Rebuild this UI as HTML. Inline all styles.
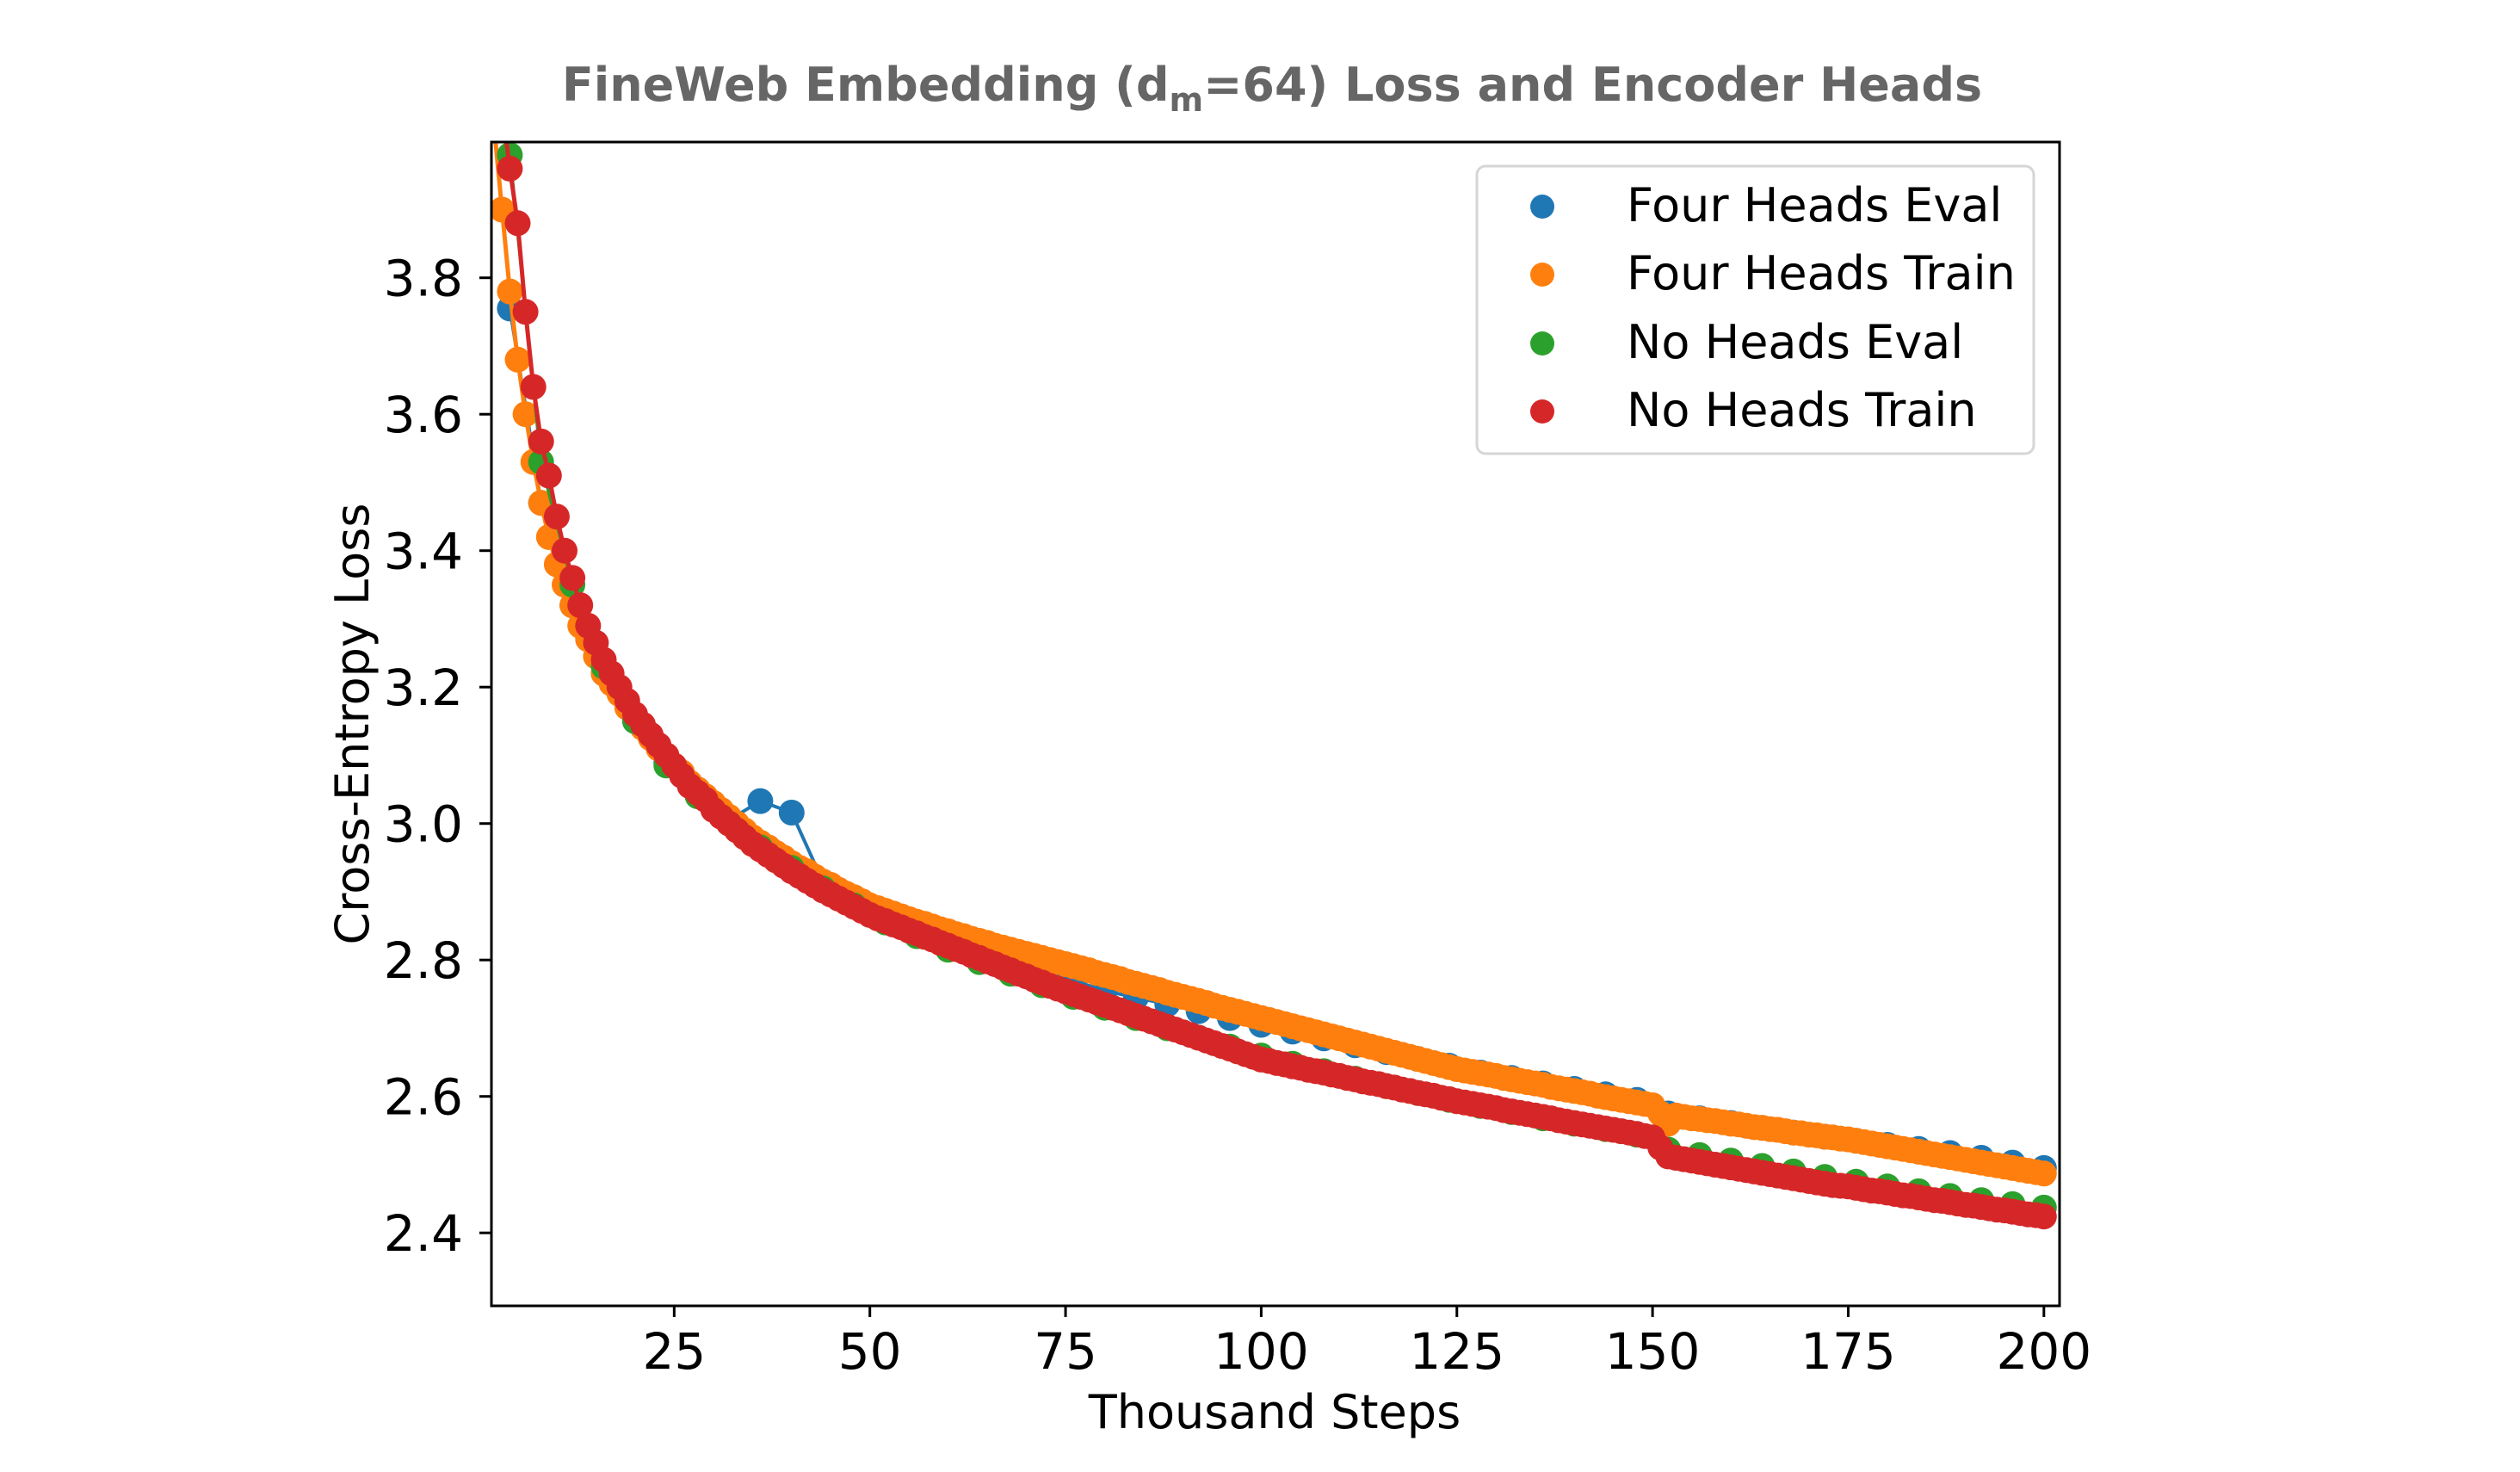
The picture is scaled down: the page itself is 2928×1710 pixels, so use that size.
<!DOCTYPE html>
<html><head><meta charset="utf-8"><style>
html,body{margin:0;padding:0;background:#fff;}
svg{display:block;font-family:"DejaVu Sans","Liberation Sans",sans-serif;}
</style></head><body>
<svg id="chart" width="2928" height="1710" viewBox="0 0 2928 1710" xmlns="http://www.w3.org/2000/svg">
<defs><clipPath id="plotclip"><rect x="571" y="165" width="1821" height="1352"/></clipPath></defs>
<rect width="2928" height="1710" fill="#fff"/>
<text x="1478" y="117" text-anchor="middle" font-size="54" font-weight="bold" fill="#666666">FineWeb Embedding (d<tspan font-size="38" dy="12">m</tspan><tspan dy="-12">=64) Loss and Encoder Heads</tspan></text>
<g id="marks" clip-path="url(#plotclip)"></g>
<g id="axes"></g>
<text x="1481" y="1659" text-anchor="middle" font-size="54" fill="#000">Thousand Steps</text>
<text transform="translate(428,841) rotate(-90)" text-anchor="middle" font-size="54" fill="#000">Cross-Entropy Loss</text>
<g id="legend">
<rect x="1716" y="193" width="647" height="334" rx="10" fill="#fff" stroke="#d6d6d6" stroke-width="3"/>
</g>
</svg>
<script>
const xTicks = [25, 50, 75, 100, 125, 150, 175, 200];
const yTicks = [2.4, 2.6, 2.8, 3.0, 3.2, 3.4, 3.6, 3.8];
const seriesNames = ["Four Heads Eval", "Four Heads Train", "No Heads Eval", "No Heads Train"];
const seriesColors = ["#1f77b4", "#ff7f0e", "#2ca02c", "#d62728"];
const evalSteps = [4,8,12,16,20,24,28,32,36,40,44,48,52,56,60,64,68,72,76,80,84,88,92,96,100,104,108,112,116,120,124,128,132,136,140,144,148,152,156,160,164,168,172,176,180,184,188,192,196,200];
const fourHeadsEval = [3.755,3.47,3.32,3.22,3.15,3.09,3.05,3.005,3.033,3.016,2.915,2.885,2.865,2.85,2.83,2.815,2.80,2.785,2.77,2.755,2.745,2.735,2.725,2.715,2.705,2.695,2.685,2.675,2.665,2.655,2.645,2.635,2.627,2.619,2.611,2.603,2.595,2.575,2.568,2.561,2.554,2.547,2.541,2.535,2.529,2.523,2.517,2.51,2.503,2.495];
const noHeadsEval = [3.98,3.53,3.35,3.23,3.15,3.085,3.04,3.0,2.965,2.935,2.905,2.88,2.855,2.835,2.815,2.797,2.78,2.763,2.746,2.73,2.715,2.70,2.686,2.673,2.66,2.648,2.637,2.626,2.615,2.605,2.595,2.586,2.577,2.568,2.56,2.552,2.544,2.522,2.514,2.506,2.498,2.49,2.482,2.475,2.468,2.461,2.454,2.448,2.442,2.437];
const fourHeadsTrainStart = 2;
const fourHeadsTrain = [4.02,3.90,3.78,3.68,3.60,3.53,3.47,3.42,3.38,3.35,3.32,3.29,3.27,3.245,3.22,3.205,3.19,3.17,3.155,3.14,3.125,3.11,3.10,3.085,3.075,3.06,3.05,3.04,3.03,3.02,3.01,3.00,2.99,2.98,2.972,2.965,2.957,2.95,2.942,2.935,2.93,2.922,2.915,2.91,2.903,2.897,2.892,2.886,2.88,
2.876,2.872,2.868,2.864,2.860,2.856,2.853,2.849,2.845,2.842,2.838,2.835,2.831,2.828,2.825,2.821,2.818,2.815,2.812,2.809,2.806,2.803,2.800,2.797,2.794,
2.791,2.788,2.785,2.781,2.778,2.775,2.772,2.768,2.765,2.762,2.759,2.756,2.752,2.749,2.746,2.743,2.740,2.737,2.733,2.730,2.727,2.724,2.721,2.718,2.715,
2.712,2.709,2.706,2.703,2.700,2.697,2.694,2.691,2.688,2.685,2.682,2.679,2.676,2.673,2.670,2.667,2.664,2.661,2.658,2.655,2.652,2.649,2.646,2.643,2.640,
2.638,2.636,2.634,2.632,2.630,2.627,2.625,2.623,2.621,2.619,2.617,2.614,2.612,2.610,2.608,2.606,2.604,2.601,2.599,2.597,2.595,2.593,2.591,2.589,2.587,
2.575,2.560,2.572,2.570,2.568,2.567,2.565,2.564,2.562,2.560,2.559,2.557,2.555,2.554,2.552,2.551,2.549,2.547,2.546,2.544,2.543,2.541,2.540,2.538,2.537,
2.535,2.533,2.531,2.529,2.527,2.525,2.523,2.521,2.519,2.517,2.515,2.513,2.511,2.509,2.507,2.505,2.503,2.501,2.499,2.497,2.495,2.493,2.491,2.489,2.487];
const noHeadsTrainStart = 3;
const noHeadsTrain = [4.05,3.96,3.88,3.75,3.64,3.56,3.51,3.45,3.40,3.36,3.32,3.29,3.265,3.24,3.22,3.20,3.18,3.16,3.145,3.13,3.115,3.10,3.085,3.07,3.055,3.045,3.035,3.02,3.01,3.00,2.99,2.98,2.97,2.962,2.954,2.946,2.938,2.93,2.923,2.916,2.909,2.902,2.896,2.89,2.884,2.878,2.872,2.866,
2.861,2.857,2.852,2.848,2.843,2.839,2.834,2.830,2.825,2.821,2.816,2.812,2.807,2.803,2.798,2.794,2.789,2.785,2.780,2.776,2.771,2.767,2.762,2.758,2.754,
2.750,2.746,2.742,2.738,2.734,2.730,2.726,2.722,2.718,2.714,2.710,2.706,2.702,2.698,2.694,2.690,2.686,2.682,2.678,2.674,2.670,2.666,2.662,2.658,2.654,
2.652,2.649,2.647,2.644,2.642,2.639,2.637,2.635,2.632,2.630,2.627,2.625,2.622,2.620,2.618,2.615,2.613,2.610,2.608,2.605,2.603,2.601,2.598,2.596,2.593,
2.591,2.589,2.587,2.585,2.583,2.580,2.578,2.576,2.574,2.572,2.570,2.568,2.565,2.563,2.561,2.559,2.557,2.555,2.553,2.551,2.549,2.547,2.545,2.542,2.540,
2.525,2.512,2.510,2.508,2.506,2.504,2.502,2.500,2.498,2.496,2.494,2.492,2.490,2.488,2.486,2.484,2.482,2.480,2.478,2.476,2.474,2.472,2.470,2.469,2.468,
2.466,2.464,2.462,2.461,2.459,2.457,2.455,2.454,2.452,2.450,2.448,2.447,2.445,2.443,2.441,2.440,2.438,2.436,2.434,2.433,2.431,2.429,2.427,2.426,2.424];

const NS = "http://www.w3.org/2000/svg";
const X0 = 571, X1 = 2393, Y0 = 165, Y1 = 1517;
const xMin = 1.65, xMax = 202.0, yMin = 2.293, yMax = 3.999;
function sx(v){ return X0 + (v - xMin) / (xMax - xMin) * (X1 - X0); }
function sy(v){ return Y1 - (v - yMin) / (yMax - yMin) * (Y1 - Y0); }
function mk(tag, attrs, parent){ const e = document.createElementNS(NS, tag); for (const k in attrs) e.setAttribute(k, attrs[k]); parent.appendChild(e); return e; }

const marks = document.getElementById("marks");
const axes = document.getElementById("axes");
const legend = document.getElementById("legend");

function drawSeries(steps, vals, color, lw, name){
  const g = mk("g", {}, marks);
  
  
  for (let i = 0; i < vals.length; i++){
    const c = mk("circle", {cx: sx(steps[i]).toFixed(1), cy: sy(vals[i]).toFixed(1), r: 15, fill: color}, g);
    
    
  }
  const d = vals.map((v, i) => (i ? "L" : "M") + sx(steps[i]).toFixed(1) + " " + sy(v).toFixed(1)).join(" ");
  const p = mk("path", {d: d, fill: "none", stroke: color, "stroke-width": lw, "stroke-linejoin": "round"}, g);
  
  
}
const fhSteps = fourHeadsTrain.map((v, i) => fourHeadsTrainStart + i);
const nhSteps = noHeadsTrain.map((v, i) => noHeadsTrainStart + i);
drawSeries(evalSteps, fourHeadsEval, seriesColors[0], 4, "four-heads-eval");
drawSeries(fhSteps, fourHeadsTrain, seriesColors[1], 5, "four-heads-train");
drawSeries(evalSteps, noHeadsEval, seriesColors[2], 4, "no-heads-eval");
drawSeries(nhSteps, noHeadsTrain, seriesColors[3], 5, "no-heads-train");

const frame = mk("rect", {x: X0, y: Y0, width: X1 - X0, height: Y1 - Y0, fill: "none", stroke: "#000", "stroke-width": 3}, axes);


for (const t of xTicks){
  const x = sx(t);
  const l = mk("line", {x1: x, x2: x, y1: Y1, y2: Y1 + 13, stroke: "#000", "stroke-width": 3}, axes);
  
  
  const tx = mk("text", {x: x, y: 1590, "text-anchor": "middle", "font-size": 58, fill: "#000"}, axes);
  tx.textContent = String(t);
  
  
}
for (const t of yTicks){
  const y = sy(t);
  const l = mk("line", {x1: X0 - 14, x2: X0, y1: y, y2: y, stroke: "#000", "stroke-width": 3}, axes);
  
  
  const tx = mk("text", {x: 538, y: y + 21, "text-anchor": "end", "font-size": 58, fill: "#000"}, axes);
  tx.textContent = t.toFixed(1);
  
  
}
const legY = [237, 316, 396, 475];
for (let i = 0; i < seriesNames.length; i++){
  const g = mk("g", {}, legend);
  
  
  const c = mk("circle", {cx: 1792, cy: legY[i] + 3, r: 14, fill: seriesColors[i]}, g);
  
  
  const t = mk("text", {x: 1890, y: legY[i] + 20, "font-size": 54, fill: "#000"}, g);
  t.textContent = seriesNames[i];
  
  
}
</script>
</body></html>
